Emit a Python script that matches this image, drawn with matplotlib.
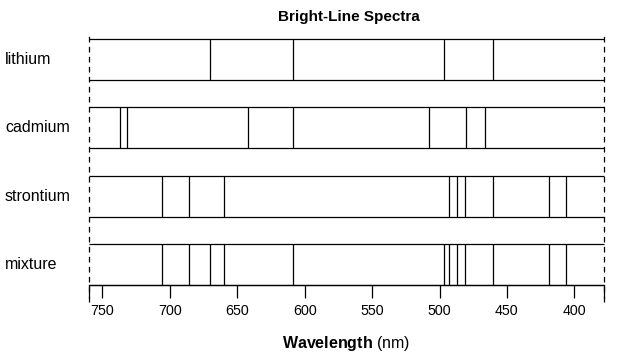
import matplotlib
matplotlib.use("Agg")
import matplotlib.pyplot as plt
from matplotlib.transforms import blended_transform_factory

plt.rcParams['font.family'] = ['Liberation Sans', 'DejaVu Sans']
plt.rcParams['mathtext.fontset'] = 'custom'
plt.rcParams['mathtext.rm'] = 'Liberation Sans'
plt.rcParams['mathtext.bf'] = 'Liberation Sans:bold'

# spectral lines (nm)
elements = ["lithium", "cadmium", "strontium", "mixture"]
lithium = [670, 609, 497, 460]
cadmium = [737, 732, 642, 609, 508, 480, 466]
strontium = [706, 686, 660, 493, 487, 481, 460, 419, 406]
mixture = [706, 686, 670, 660, 609, 497, 493, 487, 481, 460, 419, 406]
spectra = [lithium, cadmium, strontium, mixture]

ticks = [750, 700, 650, 600, 550, 500, 450, 400]
wl_max, wl_min = 760, 378

W, H = 627, 360
fig = plt.figure(figsize=(W / 100, H / 100), dpi=100)
ax = fig.add_axes([89 / W, (H - 285) / H, (604 - 89) / W, (285 - 39) / H])

box_h = 0.6
lw = 0.9
trans = blended_transform_factory(fig.transFigure, ax.transData)
for i, (name, lines) in enumerate(zip(elements, spectra)):
    y0 = len(elements) - 1 - i
    # top and bottom of each strip, the sides are the dashed lines
    ax.hlines([y0, y0 + box_h], wl_max, wl_min, color="black", lw=lw,
              clip_on=False)
    ax.vlines(lines, y0, y0 + box_h, color="black", lw=lw)
    ax.text(5 / W, y0 + box_h / 2, name, transform=trans, ha="left",
            va="center", fontsize=11.5)

# dashed edges
for x in (wl_max, wl_min):
    ax.plot([x, x], [-0.25, 3.64], color="black", lw=0.9,
            linestyle=(0, (4.5, 3.5)), clip_on=False)

ax.set_xlim(wl_max, wl_min)
ax.set_ylim(0, len(elements) - 1 + box_h)
ax.set_xticks(ticks)
ax.set_xticks([wl_max, wl_min], minor=True)
ax.tick_params(axis="x", which="both", length=9, width=lw, direction="out",
               labelsize=10.3, pad=5)
ax.set_yticks([])
for s in ("left", "right", "top"):
    ax.spines[s].set_visible(False)
ax.spines["bottom"].set_linewidth(lw)

ax.set_xlabel(r"$\mathbf{Wavelength}$ (nm)", fontsize=11.5, labelpad=11)
fig.text(349 / W, 1 - 21 / H, "Bright-Line Spectra", ha="center",
         va="baseline", fontsize=11, fontweight="bold")

fig.savefig("out.png", dpi=100)
